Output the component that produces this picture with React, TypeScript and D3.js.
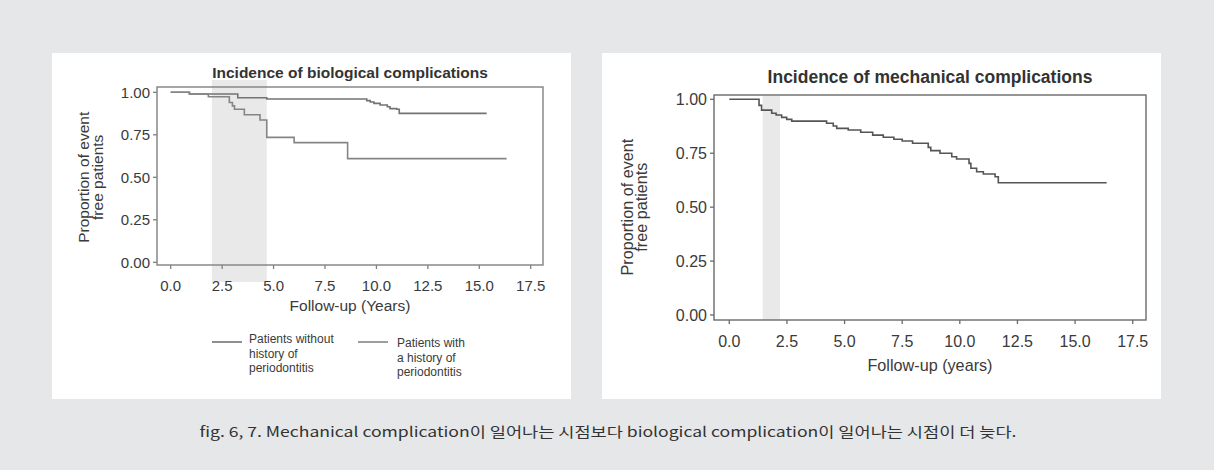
import React from 'react';
import * as d3 from 'd3';

// tick values shared by both charts
const xTicks = [0, 2.5, 5, 7.5, 10, 12.5, 15, 17.5];
const yTicks = [0, 0.25, 0.5, 0.75, 1];

// biological complications: patients without history of periodontitis
const bioWithoutT = [0, 0.91, 3.26, 4.67, 9.53, 9.7, 9.88, 10.18, 10.53, 10.66, 10.99, 11.11, 15.36];
const bioWithoutS = [1, 0.99, 0.968, 0.961, 0.951, 0.943, 0.935, 0.925, 0.915, 0.904, 0.9, 0.876, 0.876];

// biological complications: patients with a history of periodontitis
const bioWithT = [0, 0.91, 1.83, 2.85, 3.0, 3.1, 3.58, 4.34, 4.67, 6.0, 8.6, 16.33];
const bioWithS = [1, 0.99, 0.974, 0.94, 0.92, 0.9, 0.868, 0.837, 0.735, 0.704, 0.61, 0.61];

// mechanical complications
const mechT = [0, 1.29, 1.4, 1.84, 2.03, 2.27, 2.49, 2.71, 4.22, 4.51, 4.66, 5.16, 5.7, 6.22, 6.68,
  7.14, 7.5, 7.95, 8.63, 8.74, 9.14, 9.65, 9.86, 10.4, 10.48, 10.73, 11.02, 11.53, 11.67, 16.37];
const mechS = [1, 0.972, 0.95, 0.935, 0.927, 0.916, 0.907, 0.899, 0.889, 0.876, 0.865, 0.858, 0.847,
  0.834, 0.824, 0.815, 0.807, 0.796, 0.777, 0.762, 0.75, 0.734, 0.723, 0.703, 0.68, 0.664, 0.654,
  0.641, 0.613, 0.613];

// shaded time windows
const bioShade = [2.0, 4.67];
const mechShade = [1.45, 2.2];

const legendLabels = [
  ['Patients without', 'history of', 'periodontitis'],
  ['Patients with', 'a history of', 'periodontitis'],
];

const caption = 'fig. 6, 7. Mechanical complication이 일어나는 시점보다 biological complication이 일어나는 시점이 더 늦다.';

const FONT = '"Liberation Sans", Arial, Helvetica, sans-serif';

type Series = { t: number[]; s: number[]; color: string };

type PanelProps = {
  title: string;
  xTitle: string;
  box: { l: number; t: number; r: number; b: number };
  xRange: [number, number];
  yRange: [number, number];
  shade: number[];
  shadeY: [number, number];
  series: Series[];
  titleY: number;
  titleSize: number;
  tickSize: number;
  labelSize: number;
  tickLabelY: number;
  xTitleY: number;
  yLabelX: [number, number];
  boxColor: string;
};

const Panel = (p: PanelProps) => {
  const x = d3.scaleLinear().domain([0, 17.5]).range(p.xRange);
  const y = d3.scaleLinear().domain([0, 1]).range(p.yRange);
  const cx = (p.box.l + p.box.r) / 2;
  const cy = (p.yRange[0] + p.yRange[1]) / 2;
  const txtColor = '#3a3a3a';

  return (
    <g fontFamily={FONT}>
      <rect
        x={x(p.shade[0])}
        y={p.shadeY[0]}
        width={x(p.shade[1]) - x(p.shade[0])}
        height={p.shadeY[1] - p.shadeY[0]}
        fill="#e9e9e9"
      />
      <text x={cx} y={p.titleY} textAnchor="middle" dominantBaseline="central"
        fontSize={p.titleSize} fontWeight="bold" fill="#333">{p.title}</text>
      {p.series.map((se, k) => {
        const gen = d3.line<number>()
          .x((d) => x(d))
          .y((_, i) => y(se.s[i]))
          .curve(d3.curveStepAfter);
        return <path key={k} d={gen(se.t) || ''} fill="none" stroke={se.color} strokeWidth={1.6} />;
      })}
      <rect x={p.box.l} y={p.box.t} width={p.box.r - p.box.l} height={p.box.b - p.box.t}
        fill="none" stroke={p.boxColor} strokeWidth={1.4} />
      {yTicks.map((v) => (
        <g key={'y' + v}>
          <line x1={p.box.l - 4} x2={p.box.l} y1={y(v)} y2={y(v)} stroke={p.boxColor} strokeWidth={1.3} />
          <text x={p.box.l - 7} y={y(v)} textAnchor="end" dominantBaseline="central"
            fontSize={p.tickSize} fill={txtColor}>{d3.format('.2f')(v)}</text>
        </g>
      ))}
      {xTicks.map((v) => (
        <g key={'x' + v}>
          <line x1={x(v)} x2={x(v)} y1={p.box.b} y2={p.box.b + 4} stroke={p.boxColor} strokeWidth={1.3} />
          <text x={x(v)} y={p.tickLabelY} textAnchor="middle" dominantBaseline="central"
            fontSize={p.tickSize} fill={txtColor}>{d3.format('.1f')(v)}</text>
        </g>
      ))}
      <text x={cx} y={p.xTitleY} textAnchor="middle" dominantBaseline="central"
        fontSize={p.labelSize} fill={txtColor}>{p.xTitle}</text>
      {['Proportion of event', 'free patients'].map((s, i) => (
        <text key={s} transform={`translate(${p.yLabelX[i]},${cy}) rotate(-90)`} textAnchor="middle"
          dominantBaseline="central" fontSize={p.labelSize} fill={txtColor}>{s}</text>
      ))}
    </g>
  );
};

export default function App() {
  const W = 1214;
  const H = 470;
  return (
    <div style={{ position: 'fixed', left: 0, top: 0 }}>
      <svg width={W} height={H} style={{ display: 'block' }}>
        <rect x={0} y={0} width={W} height={H} fill="#e6e7e9" />
        <rect x={52} y={53} width={519} height={346} fill="#fff" />
        <rect x={602} y={53} width={559} height={346} fill="#fff" />

        <Panel
          title="Incidence of biological complications"
          xTitle="Follow-up (Years)"
          box={{ l: 157, t: 87, r: 543, b: 265 }}
          xRange={[170.7, 530.7]}
          yRange={[262.3, 92.3]}
          shade={bioShade}
          shadeY={[80, 282]}
          series={[
            { t: bioWithoutT, s: bioWithoutS, color: '#737373' },
            { t: bioWithT, s: bioWithS, color: '#858585' },
          ]}
          titleY={72}
          titleSize={15.5}
          tickSize={15}
          labelSize={15.5}
          tickLabelY={285}
          xTitleY={305}
          yLabelX={[83, 97]}
          boxColor="#808080"
        />

        <Panel
          title="Incidence of mechanical complications"
          xTitle="Follow-up (years)"
          box={{ l: 714, t: 95, r: 1146, b: 320 }}
          xRange={[729.3, 1132.7]}
          yRange={[315, 99.3]}
          shade={mechShade}
          shadeY={[96, 320]}
          series={[{ t: mechT, s: mechS, color: '#555' }]}
          titleY={77}
          titleSize={17.5}
          tickSize={16}
          labelSize={16.2}
          tickLabelY={341}
          xTitleY={365}
          yLabelX={[626.5, 640.5]}
          boxColor="#6a6a6a"
        />

        {legendLabels.map((lines, i) => {
          const lx = i === 0 ? 212 : 358;
          const tx = i === 0 ? 249 : 397;
          const ty = i === 0 ? 339 : 343;
          return (
            <g key={i} fontFamily={FONT}>
              <line x1={lx} x2={lx + 30} y1={342} y2={342} stroke={i === 0 ? '#737373' : '#858585'} strokeWidth={1.6} />
              {lines.map((s, j) => (
                <text key={j} x={tx} y={ty + j * 14.6} dominantBaseline="central" fontSize={12} fill="#3a3a3a">{s}</text>
              ))}
            </g>
          );
        })}

        <text x={608} y={437} textAnchor="middle" fontFamily='"Noto Sans CJK KR", "Noto Sans", sans-serif'
          fontSize={14} fill="#333" textLength={817} lengthAdjust="spacingAndGlyphs">{caption}</text>
      </svg>
    </div>
  );
}
